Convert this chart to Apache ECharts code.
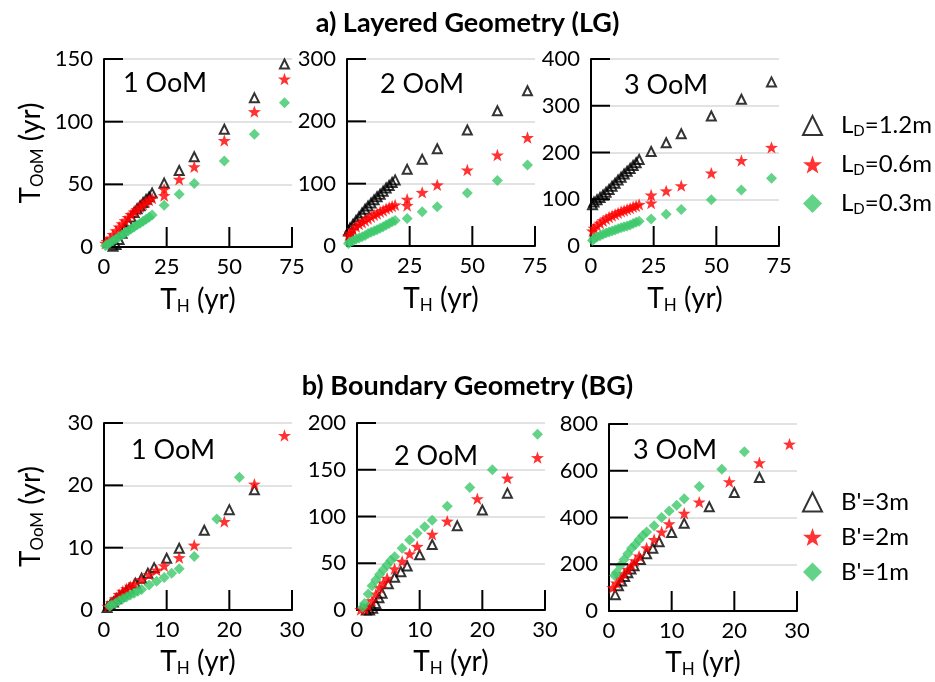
<!DOCTYPE html>
<html>
<head>
<meta charset="utf-8">
<script src="https://cdn.jsdelivr.net/npm/echarts@6/dist/echarts.min.js"></script>
<style>
  html, body { margin: 0; padding: 0; background: #fff; }
  #chart { width: 935px; height: 682px; }
</style>
</head>
<body>
<div id="chart"></div>
<script>
// ---- Layered geometry (LG): T_H values (yr) ----
const xLG = [0.6, 1.2, 2.4, 3.6, 4.8, 6, 7.2, 8.4, 9.6, 10.8, 12, 13.2, 14.4, 15.6, 16.8, 18, 19.2, 24, 30, 36, 48, 60, 72];
const xLGRed = [0.6, 1.2, 2.4, 3.6, 4.8, 6, 7.2, 8.4, 9.6, 10.8, 12, 13.2, 14.4, 15.6, 16.8, 18, 19.2, 24, 24, 30, 36, 48, 60, 72];

// 1 OoM
const lg1_L12 = [null, null, null, 0.5, 2, 6, 11, 16, 20, 24, 27.5, 30.5, 33, 35.5, 38, 40, 43, 51, 61, 72, 94, 119, 146];
const lg1_L06 = [3, 4.5, 7, 10, 13, 16, 18.5, 21, 23.5, 26, 28, 30, 32, 34, 36, 37.5, 39, 41, 46, 54, 64, 85, 108, 134];
const lg1_L03 = [1, 1.8, 3.4, 5, 6.5, 8, 9.7, 11.2, 12.8, 14.3, 16, 17.5, 19, 20.6, 22.2, 23.8, 25.5, 33.4, 42, 50.7, 68.6, 90, 115];
// 2 OoM
const lg2_L12 = [24, 29, 35, 41, 47, 53, 59, 64, 69, 74, 79, 83, 88, 93, 97, 102, 106, 123, 139, 156, 186, 217, 249];
const lg2_L06 = [17, 21, 26, 31, 35, 38, 41, 44, 47, 50, 52, 55, 57, 60, 62, 64, 66, 65, 75, 86, 98, 122, 146, 174];
const lg2_L03 = [4, 6, 8.5, 11, 13, 15, 17, 20, 22, 24, 26, 28.5, 31, 33.5, 36, 39, 41, 44, 55, 63, 85, 105, 130];
// 3 OoM
const lg3_L12 = [88, 94, 99, 104, 109, 115, 121, 128, 134, 141, 147, 154, 160, 166, 172, 178, 185, 202, 221, 240, 278, 314, 351];
const lg3_L06 = [32, 38, 44, 49, 54, 58, 62, 65, 68, 71, 74, 76, 79, 81, 84, 86, 89, 92, 109, 118, 129, 156, 183, 211];
const lg3_L03 = [12, 16, 19, 22, 25, 28, 30, 32, 34, 37, 39, 41, 43, 45, 48, 51, 53, 58, 68, 78, 99, 120, 145];

// ---- Boundary geometry (BG): T_H values (yr) ----
const xBG3 = [0.5, 1, 1.5, 2, 2.5, 3, 3.5, 4, 5, 6, 7, 8, 10, 12, 16, 20, 24];
const xBG2 = [0.6, 1.2, 1.8, 2.4, 3, 3.6, 4.2, 4.8, 6, 7.2, 8.4, 9.6, 12, 14.4, 19.2, 24, 28.8];
const xBG1 = [0.9, 1.2, 1.8, 2.4, 3, 3.6, 4.2, 4.8, 5.4, 6, 7.2, 8.4, 9.6, 10.8, 12, 14.4, 18, 21.6, 28.8];

// 1 OoM
const bg1_B3 = [0.4, 0.9, 1.3, 1.8, 2.2, 2.6, 3.0, 3.4, 4.3, 5.1, 5.9, 6.8, 8.3, 9.9, 12.8, 16.1, 19.3];
const bg1_B2 = [0.6, 1.2, 1.8, 2.5, 3, 3.4, 3.8, 4.2, 4.9, 5.7, 6.4, 7.1, 8.4, 10.4, 14.2, 20.2, 28];
const bg1_B1 = [0.6, 0.8, 1.1, 1.5, 1.8, 2.1, 2.4, 2.7, 3.0, 3.3, 4, 4.6, 5.2, 5.9, 6.6, 8.6, 14.6, 21.3, null];
// 2 OoM
const bg2_B3 = [null, null, 0, 0, 2, 7, 13, 18, 28, 35, 41, 47, 59, 70, 90, 107, 125];
const bg2_B2 = [0.5, 1, 4, 10, 17, 24, 29, 34, 44, 52, 60, 68, 81, 95, 119, 141, 163];
const bg2_B1 = [3, 7, 17, 26, 32, 38, 43, 48, 53, 57, 66, 75, 82, 89, 96, 111, 131, 150, 188];
// 3 OoM
const bg3_B3 = [null, 70, 108, 128, 148, 164, 180, 194, 220, 245, 268, 296, 336, 375, 446, 507, 571];
const bg3_B2 = [100, 120, 140, 160, 178, 196, 215, 235, 270, 306, 338, 373, 418, 466, 553, 634, 714];
const bg3_B1 = [152, 165, 195, 220, 245, 268, 285, 305, 323, 338, 365, 400, 428, 452, 480, 533, 606, 681, null];

// axis ranges
const xMaxLG = 75, xStepLG = 25, xMaxBG = 30, xStepBG = 10;
const yMaxLG = [150, 300, 400], yStepLG = [50, 100, 100];
const yMaxBG = [30, 200, 800], yStepBG = [10, 50, 200];
const panelLabels = ['1 OoM', '2 OoM', '3 OoM'];
const lgNames = ['LD=1.2m', 'LD=0.6m', 'LD=0.3m'];
const bgNames = ["B'=3m", "B'=2m", "B'=1m"];

const FONT = 'Lato';
const BLACK = '#000000', RED = '#ff0000', GREEN = '#3cc86a';
const STAR = 'path://M0,-10 L2.35,-3.24 L9.51,-3.09 L3.8,1.24 L5.88,8.09 L0,4 L-5.88,8.09 L-3.8,1.24 L-9.51,-3.09 L-2.35,-3.24 Z';
const X_TICK = 20, Y_TICK = 19;

function pairs(xs, ys) {
  return xs.map((x, i) => (ys[i] == null ? null : [x, ys[i]])).filter(Boolean);
}
function steps(max, step) {
  const out = [];
  for (let v = step; v <= max + 1e-9; v += step) out.push(v);
  return out;
}

// plot rectangles (px)
const gridsLG = [
  { left: 104, top: 59, width: 188, height: 188 },
  { left: 347, top: 59, width: 188, height: 187 },
  { left: 591, top: 59, width: 188, height: 187 }
];
const gridsBG = [
  { left: 104, top: 423, width: 188, height: 187 },
  { left: 357, top: 423, width: 188, height: 187 },
  { left: 609, top: 424, width: 188, height: 187 }
];

const nameRich = {
  t: { fontSize: 28, fontFamily: FONT, color: '#000' },
  s: { fontSize: 17, fontFamily: FONT, color: '#000', padding: [14, 0, 0, 0] }
};

function xAxisFor(gi, max, step) {
  return {
    gridIndex: gi, type: 'value', min: 0, max: max, interval: step,
    axisLine: { show: true, onZero: false, lineStyle: { color: '#000', width: 2 } },
    axisTick: { show: false },
    axisLabel: { fontSize: 22, fontFamily: FONT, color: '#000', margin: 9 },
    splitLine: { show: false },
    name: '{t|T}{s|H}{t| (yr)}', nameLocation: 'middle', nameGap: gi < 3 ? 37 : 36,
    nameTextStyle: { rich: nameRich }
  };
}
function yAxisFor(gi, max, step, withName) {
  const ax = {
    gridIndex: gi, type: 'value', min: 0, max: max, interval: step,
    axisLine: { show: true, lineStyle: { color: '#000', width: 2 } },
    axisTick: { show: false },
    axisLabel: { fontSize: 22, fontFamily: FONT, color: '#000', margin: 11 },
    splitLine: { show: true, lineStyle: { color: '#d9d9d9', width: 1.5 } }
  };
  if (withName) {
    ax.name = '{t|T}{s|OoM}{t| (yr)}';
    ax.nameLocation = 'middle';
    ax.nameGap = 58;
    ax.nameTextStyle = { rich: nameRich };
  }
  return ax;
}

function triSeries(name, gi, data) {
  return {
    name: name, type: 'scatter', xAxisIndex: gi, yAxisIndex: gi, data: data,
    symbol: 'triangle', symbolSize: 9,
    itemStyle: { color: 'rgba(255,255,255,0)', borderColor: BLACK, borderWidth: 2 },
    emphasis: { disabled: true }, z: 2
  };
}
function starSeries(name, gi, data) {
  return {
    name: name, type: 'scatter', xAxisIndex: gi, yAxisIndex: gi, data: data,
    symbol: STAR, symbolSize: 13, symbolKeepAspect: true,
    itemStyle: { color: RED }, emphasis: { disabled: true }, z: 3
  };
}
function diaSeries(name, gi, data) {
  return {
    name: name, type: 'scatter', xAxisIndex: gi, yAxisIndex: gi, data: data,
    symbol: 'diamond', symbolSize: 11,
    itemStyle: { color: GREEN }, emphasis: { disabled: true }, z: 4
  };
}

const lgData = [
  [lg1_L12, lg1_L06, lg1_L03],
  [lg2_L12, lg2_L06, lg2_L03],
  [lg3_L12, lg3_L06, lg3_L03]
];
const bgData = [
  [bg1_B3, bg1_B2, bg1_B1],
  [bg2_B3, bg2_B2, bg2_B1],
  [bg3_B3, bg3_B2, bg3_B1]
];

const grid = [], xAxis = [], yAxis = [], series = [], graphic = [];
const tickSpecs = [];

gridsLG.forEach((g, i) => {
  grid.push(g);
  xAxis.push(xAxisFor(i, xMaxLG, xStepLG));
  yAxis.push(yAxisFor(i, yMaxLG[i], yStepLG[i], i === 0));
  series.push(triSeries(lgNames[0], i, pairs(xLG, lgData[i][0])));
  series.push(starSeries(lgNames[1], i, pairs(xLGRed, lgData[i][1])));
  series.push(diaSeries(lgNames[2], i, pairs(xLG, lgData[i][2])));
  tickSpecs.push({ g: g, xMax: xMaxLG, xs: steps(xMaxLG, xStepLG), yMax: yMaxLG[i], ys: steps(yMaxLG[i], yStepLG[i]) });
});
gridsBG.forEach((g, j) => {
  const i = j + 3;
  grid.push(g);
  xAxis.push(xAxisFor(i, xMaxBG, xStepBG));
  yAxis.push(yAxisFor(i, yMaxBG[j], yStepBG[j], j === 0));
  series.push(triSeries(bgNames[0], i, pairs(xBG3, bgData[j][0])));
  series.push(starSeries(bgNames[1], i, pairs(xBG2, bgData[j][1])));
  series.push(diaSeries(bgNames[2], i, pairs(xBG1, bgData[j][2])));
  tickSpecs.push({ g: g, xMax: xMaxBG, xs: steps(xMaxBG, xStepBG), yMax: yMaxBG[j], ys: steps(yMaxBG[j], yStepBG[j]) });
});

// "n OoM" panel labels
const labelOffsets = [[61, 24], [75, 25], [75, 26], [69, 27], [79, 33], [66, 26]];
[...gridsLG, ...gridsBG].forEach((g, k) => {
  graphic.push({
    type: 'text', x: g.left + labelOffsets[k][0], y: g.top + labelOffsets[k][1],
    style: { text: panelLabels[k % 3], fontSize: 27, fontFamily: FONT, fill: '#000',
             align: 'center', verticalAlign: 'middle' }
  });
});

// inward tick marks along the left and bottom axes of every panel
tickSpecs.forEach(spec => {
  const g = spec.g;
  spec.ys.forEach(v => {
    const y = g.top + g.height * (1 - v / spec.yMax);
    graphic.push({ type: 'rect', z: 100, silent: true,
      shape: { x: g.left, y: y - 1, width: Y_TICK, height: 2 },
      style: { fill: '#000' } });
  });
  spec.xs.forEach(v => {
    const x = g.left + g.width * (v / spec.xMax);
    graphic.push({ type: 'rect', z: 100, silent: true,
      shape: { x: x - 1, y: g.top + g.height - X_TICK, width: 2, height: X_TICK },
      style: { fill: '#000' } });
  });
});

const legendText = {
  fontFamily: FONT, color: '#000', padding: [0, 0, 0, 14],
  rich: {
    n: { fontSize: 24, fontFamily: FONT, color: '#000', lineHeight: 26 },
    s: { fontSize: 15, fontFamily: FONT, color: '#000', lineHeight: 26, padding: [12, 0, 0, 0] }
  }
};

const option = {
  animation: false,
  backgroundColor: '#ffffff',
  title: [
    { text: 'a) Layered Geometry (LG)', left: 'center', top: 5,
      textStyle: { fontSize: 27, fontWeight: 'bold', fontFamily: FONT, color: '#000' } },
    { text: 'b) Boundary Geometry (BG)', left: 'center', top: 368,
      textStyle: { fontSize: 27, fontWeight: 'bold', fontFamily: FONT, color: '#000' } }
  ],
  legend: [
    { data: lgNames, orient: 'vertical', left: 797, top: 107, itemWidth: 19, itemHeight: 19,
      itemGap: 12, selectedMode: false, textStyle: legendText,
      formatter: name => '{n|L}{s|D}{n|' + name.slice(2) + '}' },
    { data: bgNames, orient: 'vertical', left: 797, top: 485, itemWidth: 19, itemHeight: 19,
      itemGap: 11, selectedMode: false, textStyle: legendText,
      formatter: name => '{n|' + name + '}' }
  ],
  grid: grid,
  xAxis: xAxis,
  yAxis: yAxis,
  series: series,
  graphic: graphic
};

const chart = echarts.init(document.getElementById('chart'), null, { renderer: 'canvas' });
chart.setOption(option);
</script>
</body>
</html>
